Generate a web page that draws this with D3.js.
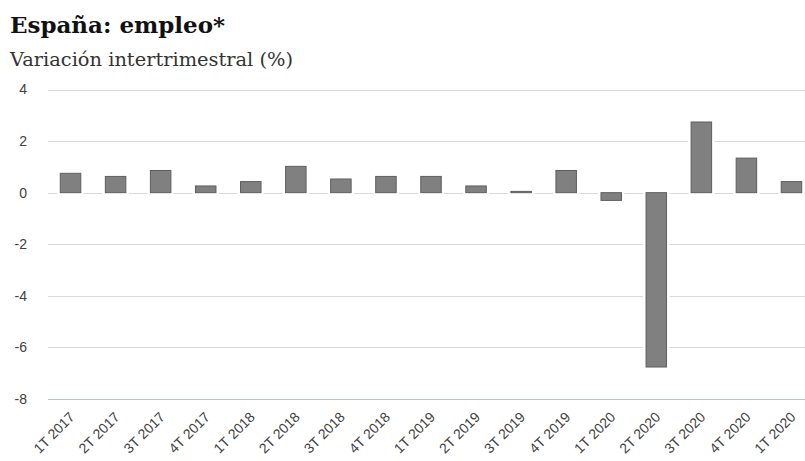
<!DOCTYPE html>
<html>
<head>
<meta charset="utf-8">
<script src="https://cdn.jsdelivr.net/npm/d3@7"></script>
<style>
  html, body { margin: 0; padding: 0; background: #ffffff; }
  svg { display: block; }
  .lbl { font-family: "Liberation Sans", Arial, sans-serif; fill: #404040; }
</style>
</head>
<body>
<div id="chart"></div>
<script>
// Quarterly employment change in Spain (% q/q)
const quarters = ["1T 2017", "2T 2017", "3T 2017", "4T 2017",
                  "1T 2018", "2T 2018", "3T 2018", "4T 2018",
                  "1T 2019", "2T 2019", "3T 2019", "4T 2019",
                  "1T 2020", "2T 2020", "3T 2020", "4T 2020",
                  "1T 2020"];
const empleo = [0.75, 0.63, 0.86, 0.26,
                0.43, 1.02, 0.53, 0.63,
                0.63, 0.26, 0.05, 0.86,
                -0.30, -6.76, 2.74, 1.34,
                0.43];
const yTicks = [4, 2, 0, -2, -4, -6, -8];

const titleText = "España: empleo*";
const subtitleText = "Variación intertrimestral (%)";

const W = 805, H = 461;
const svg = d3.select("#chart").append("svg")
  .attr("width", W).attr("height", H);

// Headings
svg.append("text")
  .attr("x", 10).attr("y", 33)
  .attr("font-family", "'DejaVu Serif', serif")
  .attr("font-weight", "bold")
  .attr("font-size", 22)
  .attr("textLength", 215).attr("lengthAdjust", "spacingAndGlyphs")
  .attr("fill", "#111")
  .text(titleText);

svg.append("text")
  .attr("x", 10).attr("y", 66)
  .attr("font-family", "'DejaVu Serif', serif")
  .attr("font-size", 19)
  .attr("textLength", 283).attr("lengthAdjust", "spacingAndGlyphs")
  .attr("fill", "#333")
  .text(subtitleText);

// Scales
const plotLeft = 48, plotRight = 814;
const x = d3.scaleBand()
  .domain(d3.range(quarters.length))
  .range([plotLeft, plotRight])
  .paddingInner(0.545)
  .paddingOuter(0.2725);

const y = d3.scaleLinear()
  .domain([-8, 4])
  .range([399, 89.5]);

// Horizontal gridlines
const grid = svg.append("g");
grid.selectAll("line")
  .data(yTicks.filter(t => t !== -8))
  .join("line")
  .attr("x1", plotLeft).attr("x2", W)
  .attr("y1", d => Math.round(y(d)) + 0.5)
  .attr("y2", d => Math.round(y(d)) + 0.5)
  .attr("stroke", "#d9d9d9")
  .attr("stroke-width", 1);

// Category axis line at the bottom of the value range
svg.append("line")
  .attr("x1", plotLeft).attr("x2", W)
  .attr("y1", Math.round(y(-8)) + 0.5)
  .attr("y2", Math.round(y(-8)) + 0.5)
  .attr("stroke", "#b8c2d6")
  .attr("stroke-width", 1);

// Y axis labels (plain hyphen for negatives)
const yAxis = d3.axisLeft(y).tickValues(yTicks).tickSize(0).tickPadding(0)
  .tickFormat(d => String(d));
const yg = svg.append("g")
  .attr("transform", `translate(27,0)`)
  .call(yAxis)
  .attr("font-family", null)
  .attr("font-size", null);
yg.select(".domain").remove();
yg.selectAll("text")
  .attr("class", "lbl")
  .style("font-size", "14px");

// Bars: white halo underneath, then the grey bar with a darker edge
const bars = svg.append("g");
const barData = empleo.map((v, i) => ({ i, v }));
bars.selectAll("rect.halo")
  .data(barData)
  .join("rect")
  .attr("class", "halo")
  .attr("x", d => x(d.i))
  .attr("width", x.bandwidth())
  .attr("y", d => y(Math.max(0, d.v)))
  .attr("height", d => Math.abs(y(d.v) - y(0)))
  .attr("fill", "#ffffff")
  .attr("stroke", "#ffffff")
  .attr("stroke-width", 6);

bars.selectAll("rect.bar")
  .data(barData)
  .join("rect")
  .attr("class", "bar")
  .attr("x", d => x(d.i))
  .attr("width", x.bandwidth())
  .attr("y", d => y(Math.max(0, d.v)))
  .attr("height", d => Math.abs(y(d.v) - y(0)))
  .attr("fill", "#808080")
  .attr("stroke", "#5e5e5e")
  .attr("stroke-width", 1);

// X axis labels, rotated
const xAxis = d3.axisBottom(x).tickSize(0).tickPadding(0)
  .tickFormat(i => quarters[i]);
const xg = svg.append("g")
  .attr("transform", `translate(0,${y(-8)})`)
  .call(xAxis)
  .attr("font-family", null)
  .attr("font-size", null);
xg.select(".domain").remove();
xg.selectAll("text")
  .attr("class", "lbl")
  .style("font-size", "14px")
  .attr("text-anchor", "end")
  .attr("dy", null)
  .attr("y", 0)
  .attr("transform", "translate(5,19) rotate(-45)");
</script>
</body>
</html>
